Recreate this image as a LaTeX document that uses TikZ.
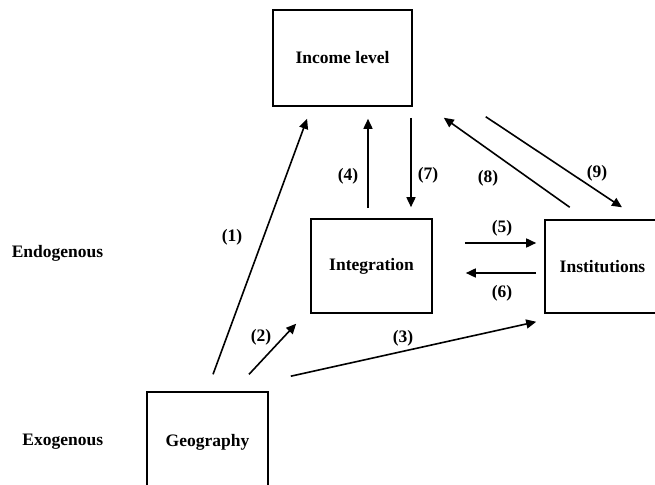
\documentclass[tikz,border=0pt]{standalone}
\usepackage{fontspec}
\setmainfont{Liberation Serif}
\usetikzlibrary{arrows.meta,positioning,calc}

\begin{document}
\begin{tikzpicture}
  [x=1pt,y=1pt,
   line width=1.6pt,
   boxNode/.style={draw,rectangle,font=\fontsize{17.5}{19}\selectfont\bfseries},
   varN/.style={boxNode,minimum width=121pt,minimum height=94pt},
   sideN/.style={font=\fontsize{17.5}{19}\selectfont\bfseries,anchor=east,inner sep=0pt},
   numN/.style={font=\fontsize{17.5}{19}\selectfont\bfseries},
   arrN/.style={-{Triangle[length=10pt,width=9pt]}},
  ]

 \clip (0,0) rectangle (655,484);

 % boxes
 \node[varN,minimum width=139pt,minimum height=96pt] (inc) at (342.5,426) {Income level};
 \node[varN] (integ) at (371.5,218) {Integration};
 \node[varN,minimum width=115pt,minimum height=93pt] (inst) at (602.5,217.5) {Institutions};
 \node[varN,minimum height=101pt] (geo) at (207.5,41.5) {Geography};

 \node[sideN] (endo) at (104,231) {Endogenous};
 \node[sideN] (exo) at (104,42) {Exogenous};

 % links
 \draw[arrN,shorten <=18pt,shorten >=12.8pt] ([xshift=-0.7pt]geo.north) -- ([xshift=-31pt]inc.south);
 \draw[arrN,shorten <=23pt,shorten >=13.6pt] ([xshift=25.8pt]geo.north) -- ([xshift=-4.8pt]integ.south west);
 \draw[arrN,shorten >=8.2pt] ([xshift=22pt,yshift=15pt]geo.north east) -- ([yshift=-6.2pt]inst.south west);
 \draw[arrN,shorten <=10pt,shorten >=12pt] ([xshift=-3.5pt]integ.north) -- ([xshift=25.5pt]inc.south);
 \draw[arrN,shorten <=11pt,shorten >=11pt] ([xshift=68.5pt]inc.south) -- ([xshift=39.5pt]integ.north);
 \draw[arrN,shorten <=32pt,shorten >=8pt] ([yshift=23pt]integ.east) -- ([yshift=23.5pt]inst.west);
 \draw[arrN,shorten <=8pt,shorten >=33pt] ([yshift=-6.5pt]inst.west) -- ([yshift=-7pt]integ.east);
 \draw[arrN,shorten <=20.6pt,shorten >=18.9pt] ([xshift=-16pt]inst.north) -- ([xshift=15.6pt]inc.south east);
 \draw[arrN,shorten <=17.9pt,shorten >=21.5pt] ([xshift=58pt]inc.south east) -- ([xshift=37.4pt]inst.north);

 % numbers
 \node[numN] (n1) at (232,247) {(1)};
 \node[numN] (n2) at (261,147) {(2)};
 \node[numN] (n3) at (403,146) {(3)};
 \node[numN] (n4) at (348,308) {(4)};
 \node[numN] (n5) at (502,256) {(5)};
 \node[numN] (n6) at (502,191) {(6)};
 \node[numN] (n7) at (428,309) {(7)};
 \node[numN] (n8) at (488,306) {(8)};
 \node[numN] (n9) at (597,311) {(9)};
\end{tikzpicture}
\end{document}
